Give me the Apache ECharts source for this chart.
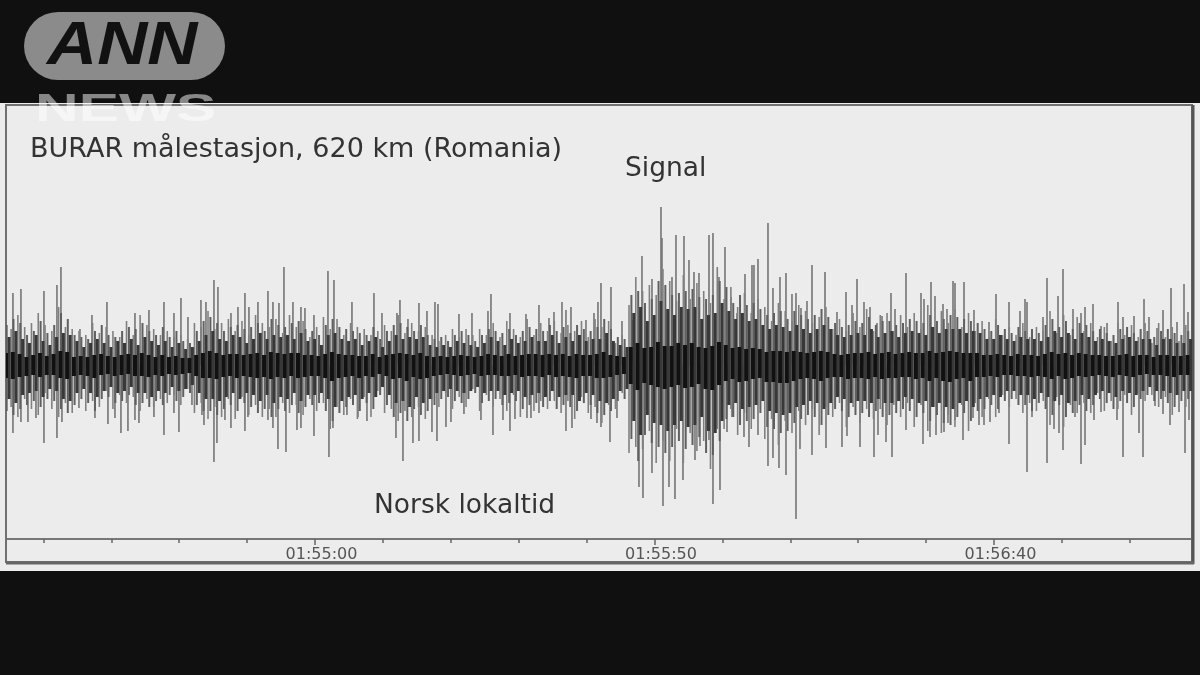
<!DOCTYPE html>
<html><head><meta charset="utf-8">
<style>html,body{margin:0;padding:0;background:#111}#c{width:1200px;height:675px;filter:blur(0.55px)}</style>
<script src="https://cdn.jsdelivr.net/npm/echarts@6/dist/echarts.min.js"></script>
</head><body><div id="c"></div>
<script>
const titleText = 'BURAR målestasjon, 620 km (Romania)';
const signalText = 'Signal';
const timeText = 'Norsk lokaltid';
const minorTickSeconds = [6860,6870,6880,6890,6910,6920,6930,6940,6960,6970,6980,6990,7010,7020];
const majorTickSeconds = [6900,6950,7000];
const traceStartSeconds = 6854.5;
const traceEndSeconds = 7029.16;
const samplesPerSecond = 6.79;
const sampleAtMajorTick = 315;

// envelope of the dense trace, one reading per second from trace start
const outerUp = [48,36,50,38,42,52,40,34,58,38, 36,34,30,42,32,38,34,28,44,30, 50,40,36,30,34,28,30,26,42,38,
 54,36,42,46,34,44,30,50,42,38, 46,32,50,38,44,28,38,48,36,46, 30,42,38,36,30,34,40,34,50,32,
 42,34,38,30,24,30,36,28,36,30, 36,30,42,28,44,36,28,46,30,42, 34,44,32,40,34,44,28,46,38,44,
 22,30,60,88,74,80,70,96,84,64, 90,66,82,74,62,98,66,78,58,72, 52,66,58,44,62,54,44,60,54,42,
 48,58,36,46,34,52,38,56,34,50, 52,34,50,38,52,36,60,38,54,42, 56,38,52,34,44,28,46,30,38,30,
 42,28,38,34,54,32,50,30,48,34, 42,28,38,24,42,30,40,28,42,22, 42,28,38,24,40];
const outerLow = [54,42,52,34,44,50,28,44,52,38, 48,28,46,36,42,26,44,30,38,32, 46,34,42,34,38,30,40,24,48,38,
 54,42,52,34,54,32,50,40,52,44, 52,38,48,40,50,34,46,38,64,42, 50,34,54,32,52,26,48,44,56,46,
 52,42,54,34,42,28,44,32,42,24, 46,30,42,34,46,30,52,34,46,36, 44,36,48,36,54,32,48,42,58,40,
 44,28,88,82,84,66,98,76,96,64, 98,68,86,76,104,64,64,44,70,48, 64,40,74,54,80,56,68,46,60,44,
 70,42,52,38,62,42,58,44,54,44, 60,40,52,38,62,40,66,42,68,50, 62,40,66,38,52,34,52,30,42,34,
 48,38,46,36,60,32,62,40,48,38, 48,28,46,36,44,30,50,28,36,30, 42,32,50,30,42];
const midUp = [40,46,42,30,34,44,32,40,52,46, 30,28,26,34,40,30,28,34,38,36, 42,34,30,38,28,34,24,22,34,44,
 48,42,34,38,40,36,38,42,34,46, 40,38,42,44,36,34,30,40,46,38, 36,34,32,30,38,26,34,40,42,38,
 34,40,30,26,28,24,30,34,30,24, 30,36,34,32,36,30,34,38,36,34, 40,34,38,32,40,36,34,38,46,36,
 28,26,70,74,62,66,84,80,70,72, 74,76,68,66,70,84,78,62,70,60, 62,56,50,52,54,46,54,50,46,50,
 56,48,42,38,40,44,42,48,40,44, 44,40,42,46,44,42,50,44,46,50, 48,46,44,42,36,34,40,36,32,38,
 34,36,32,40,46,38,44,36,42,40, 34,36,32,30,36,38,32,36,34,28, 34,36,32,30,34];
const midLow = [46,50,44,40,36,42,34,36,44,48, 40,34,38,46,34,32,38,36,30,40, 38,42,36,40,30,36,32,28,40,46,
 46,50,44,40,46,38,42,48,44,52, 44,46,40,48,42,40,38,46,56,48, 42,40,46,38,44,30,40,52,48,56,
 44,50,46,40,34,32,36,38,34,28, 38,36,34,40,38,36,44,40,38,42, 36,44,40,42,46,38,40,48,50,46,
 36,34,74,96,70,78,82,88,82,76, 84,80,72,88,90,76,54,52,60,56, 54,48,62,64,68,66,58,54,50,52,
 60,50,44,46,52,50,48,52,46,52, 50,48,44,46,52,48,56,50,58,60, 52,48,56,46,44,40,44,36,34,40,
 40,46,38,44,50,40,52,48,40,46, 40,34,38,44,36,38,42,34,30,36, 34,38,42,36,34];
const innerUp = [28,34,26,22,30,24,20,28,32,30, 24,18,22,26,22,18,24,22,26,20, 28,24,20,24,18,22,16,18,24,30,
 34,26,24,30,28,22,26,32,26,30, 28,30,26,32,24,26,20,30,32,26, 24,26,20,24,28,18,24,30,26,28,
 26,28,20,18,20,18,24,22,20,18, 22,28,24,20,26,22,24,28,24,24, 30,22,28,24,30,24,26,26,32,24,
 20,18,52,58,44,50,64,56,50,58, 56,58,46,50,52,62,54,46,52,44, 46,40,36,40,38,34,40,36,32,36,
 40,36,30,28,30,32,30,36,28,32, 34,28,32,34,32,30,38,32,36,36, 36,32,34,32,26,26,30,26,24,28,
 26,26,24,28,34,28,32,26,32,28, 24,26,24,22,26,28,24,26,26,20, 26,26,22,22,26];
const innerLow = [34,38,30,28,26,32,24,26,34,36, 28,24,28,32,26,22,28,26,22,28, 28,32,26,28,22,26,24,20,28,34,
 34,36,32,28,34,28,30,36,30,38, 32,34,28,36,30,30,28,34,42,36, 32,30,34,28,32,22,30,38,36,42,
 32,38,34,28,26,24,26,28,26,22, 28,26,26,30,28,26,32,30,28,32, 26,32,30,30,36,28,30,36,38,34,
 26,24,56,70,50,58,60,66,60,56, 62,60,52,66,68,56,40,38,44,42, 40,36,46,48,50,48,42,40,36,38,
 44,38,32,34,38,36,36,38,34,38, 38,36,32,34,38,36,42,38,42,44, 38,36,42,34,32,30,32,26,26,30,
 30,34,28,32,36,30,38,36,30,34, 30,26,28,32,26,28,30,26,22,26, 26,28,30,26,26];
const coreUp = [12,13,11,8,10,12,9,11,14,13, 8,9,8,10,11,9,8,10,11,10, 12,10,8,10,8,9,7,7,10,12,
 14,12,10,11,11,10,11,12,10,13, 12,11,12,12,10,10,9,11,13,11, 10,10,9,9,11,8,10,11,12,11,
 10,12,9,8,9,8,9,10,9,8, 9,11,10,9,11,9,10,11,11,10, 11,10,11,9,11,10,10,11,13,10,
 9,8,18,22,17,18,23,19,19,22, 20,22,18,17,19,23,20,17,18,16, 17,16,13,14,14,13,14,13,12,13,
 14,13,11,10,11,12,12,13,11,12, 13,11,12,13,12,12,14,12,13,14, 13,12,12,12,10,10,11,10,9,11,
 10,10,9,11,13,11,12,10,12,11, 10,10,9,9,10,11,9,10,10,8, 10,10,9,9,10];
const coreLow = [13,14,12,11,10,12,10,10,13,14, 11,10,11,13,10,9,11,10,9,11, 11,12,10,11,9,10,9,8,11,13,
 13,14,12,11,13,11,12,13,12,14, 12,13,11,13,12,11,11,13,16,13, 12,11,13,11,12,9,11,14,13,16,
 12,14,13,11,10,9,10,11,10,9, 11,10,10,11,11,10,12,11,11,12, 10,12,11,12,13,11,11,13,13,12,
 10,9,19,25,18,20,22,24,22,20, 23,22,19,24,25,20,16,14,17,16, 14,13,17,17,18,18,16,14,13,14,
 16,13,12,12,14,13,13,14,12,14, 13,13,12,12,14,13,16,13,16,17, 14,13,16,12,12,11,12,10,10,11,
 11,12,11,12,14,11,14,13,11,12, 11,10,11,12,10,11,12,10,9,10, 10,11,12,10,10];

// isolated peaks: [sample number, amplitude]
const upSpikes = [[13,72],[21,76],[44,74],[57,80],[61,98],[80,36],[92,50],[107,63],[135,52],[149,55],[164,63],[174,52],[181,67],[188,48],[201,65],[206,63],[214,85],[218,78],[231,52],[238,58],[245,72],[249,58],[258,63],[268,74],[273,63],[279,62],[284,98],[293,63],
 [301,58],[305,57],[314,50],[328,94],[334,85],[352,63],[374,72],[382,52],[397,52],[400,65],[408,46],[419,62],[427,54],[435,63],[438,61],[459,51],[472,52],[488,54],[491,71],[510,52],[526,51],[539,60],[549,47],[554,53],[562,63],[566,55],[571,58],[586,45],[594,52],[598,63],
 [601,82],[611,78],[622,44],[632,45],[642,109],[652,86],[661,158],[662,127],[672,88],[676,130],[684,129],[689,105],[694,93],[699,92],[709,130],[713,132],[719,88],[725,118],[731,68],[737,52],[745,91],[752,100],[754,100],[758,106],[768,142],[773,77],[780,88],[786,92],[792,71],[796,72],[801,57],[807,64],[812,100],[825,93],[837,53],[846,73],[852,60],[857,86],[864,63],[870,58],[877,42],[882,49],[891,72],[895,56],
 [906,92],[921,72],[924,66],[931,83],[935,69],[943,61],[947,56],[953,84],[955,82],[964,83],[974,55],[989,43],[996,71],[1009,63],[1020,54],[1025,66],[1027,63],[1043,48],[1047,87],[1058,69],[1063,96],[1073,56],[1081,52],[1085,58],[1093,61],[1101,39],[1107,42],[1118,63],[1123,48],[1134,49],[1144,66],[1149,48],[1157,37],[1163,55],[1171,77],[1177,43],[1184,81],[1188,53]];
const lowSpikes = [[13,68],[21,57],[28,57],[36,53],[44,78],[57,73],[62,57],[79,43],[95,53],[108,59],[115,53],[121,68],[128,66],[135,55],[139,58],[154,52],[164,70],[174,48],[179,67],[192,40],[202,50],[204,60],[214,97],[217,78],[225,55],[231,63],[245,66],[248,52],[268,55],[273,63],[278,84],[286,87],[297,65],
 [301,63],[314,71],[329,92],[333,63],[347,50],[358,52],[367,56],[396,73],[403,96],[413,78],[419,76],[432,67],[437,76],[446,62],[451,57],[464,49],[481,55],[493,70],[503,55],[510,66],[515,54],[527,53],[531,53],[539,48],[566,66],[572,63],[591,54],[597,58],
 [601,62],[610,77],[617,53],[634,48],[639,122],[643,133],[652,108],[663,141],[669,122],[675,134],[683,115],[695,95],[700,81],[709,75],[713,139],[720,125],[727,67],[732,52],[744,72],[749,82],[758,70],[768,101],[773,93],[779,103],[786,110],[796,154],[800,84],[812,90],[826,83],[842,82],[847,71],[860,82],[874,92],[878,70],[886,77],[892,92],
 [906,65],[923,79],[930,72],[936,70],[944,67],[948,58],[955,55],[963,75],[973,53],[979,60],[984,60],[990,57],[999,48],[1009,79],[1027,107],[1032,52],[1047,98],[1054,64],[1059,68],[1063,85],[1075,52],[1081,99],[1085,80],[1094,55],[1101,47],[1117,55],[1123,92],[1139,68],[1143,92],[1155,41],[1163,49],[1170,60],[1179,47],[1185,88],[1189,55]];

const sampleToSeconds = s => 6900 + (s - sampleAtMajorTick) / samplesPerSecond;
const spikeData = upSpikes.map(d => [sampleToSeconds(d[0]), d[1], 0])
  .concat(lowSpikes.map(d => [sampleToSeconds(d[0]), 0, -d[1]]));
const spans = (ups, lows, offset) => ups.map((v, i) => [Math.floor(traceStartSeconds) + i + offset, v, -lows[i]]);
const clock = v => {
  const h = Math.floor(v / 3600), m = Math.floor(v % 3600 / 60), s = Math.round(v % 60);
  return [h, m, s].map(n => String(n).padStart(2, '0')).join(':');
};
const trace = (data, color, width) => ({
  type: 'custom', silent: true, animation: false, progressive: 0, clip: true, z: 5,
  data: data, encode: {x: 0, y: [1, 2]},
  renderItem: (p, api) => {
    const a = api.coord([api.value(0), api.value(1)]);
    const b = api.coord([api.value(0), api.value(2)]);
    return {type: 'line', shape: {x1: a[0], y1: a[1], x2: b[0], y2: b[1]},
      style: {stroke: color, lineWidth: width}};
  }
});

const chart = echarts.init(document.getElementById('c'), null, {width: 1200, height: 675});
const F = '"DejaVu Sans"';
chart.setOption({
  animation: false,
  backgroundColor: '#101010',
  grid: {left: 6, right: 8, top: 105, bottom: 136, containLabel: false},
  xAxis: [{
    type: 'value', min: traceStartSeconds, max: traceEndSeconds, position: 'bottom',
    splitLine: {show: false},
    axisLine: {show: true, onZero: false, lineStyle: {color: '#777', width: 2}},
    axisTick: {show: true, length: 6, inside: false, customValues: majorTickSeconds, lineStyle: {color: '#666', width: 1.5}},
    axisLabel: {show: true, customValues: majorTickSeconds, formatter: clock, margin: 8, padding: [0, 0, 0, 13],
      fontFamily: F, fontSize: 16, color: '#555'}
  }, {
    type: 'value', min: traceStartSeconds, max: traceEndSeconds, position: 'bottom',
    splitLine: {show: false}, axisLine: {show: false, onZero: false},
    axisTick: {show: true, length: 4, customValues: minorTickSeconds, lineStyle: {color: '#666', width: 1.5}},
    axisLabel: {show: false}
  }],
  yAxis: {type: 'value', min: -174, max: 260, show: false, splitLine: {show: false}},
  series: [
    trace(spikeData, '#757575', 1.6),
    trace(spans(outerUp, outerLow, 0.25), '#808080', 1.6),
    trace(spans(midUp, midLow, 0.6), '#606060', 2),
    trace(spans(innerUp, innerLow, 0.95), '#383838', 3),
    trace(spans(coreUp, coreLow, 0.5), '#111111', 4)
  ],
  graphic: [
    {type: 'rect', z: 0, shape: {x: 0, y: 103, width: 1200, height: 468}, style: {fill: '#ececec'}},
    {type: 'rect', z: 1, shape: {x: 6, y: 105, width: 1186, height: 457}, style: {fill: 'none', stroke: '#707070', lineWidth: 2}},
    {type: 'line', z: 1, shape: {x1: 1193, y1: 105, x2: 1193, y2: 564}, style: {stroke: '#555', lineWidth: 3}},
    {type: 'line', z: 1, shape: {x1: 6, y1: 563, x2: 1194, y2: 563}, style: {stroke: '#666', lineWidth: 3}},
    {type: 'text', z: 10, x: 30, y: 150, style: {text: titleText, font: '27px ' + F, fill: '#333', textVerticalAlign: 'middle'}},
    {type: 'text', z: 10, x: 625, y: 169, style: {text: signalText, font: '26.5px ' + F, fill: '#333', textVerticalAlign: 'middle'}},
    {type: 'text', z: 10, x: 374, y: 506, style: {text: timeText, font: '26.5px ' + F, fill: '#333', textVerticalAlign: 'middle'}},
    {type: 'rect', z: 20, shape: {x: 24, y: 12, width: 201, height: 68, r: 34}, style: {fill: '#8b8b8b'}},
    {type: 'text', z: 21, x: 47, y: 47, scaleX: 1.12, style: {text: 'ANN', font: 'italic bold 62px "Liberation Sans"', fill: '#111', textVerticalAlign: 'middle'}},
    {type: 'text', z: 21, x: 35, y: 110, scaleX: 1.55, style: {text: 'NEWS', font: 'bold 39px "Liberation Sans"', fill: 'rgba(255,255,255,0.5)', textVerticalAlign: 'middle'}}
  ]
});
</script></body></html>
